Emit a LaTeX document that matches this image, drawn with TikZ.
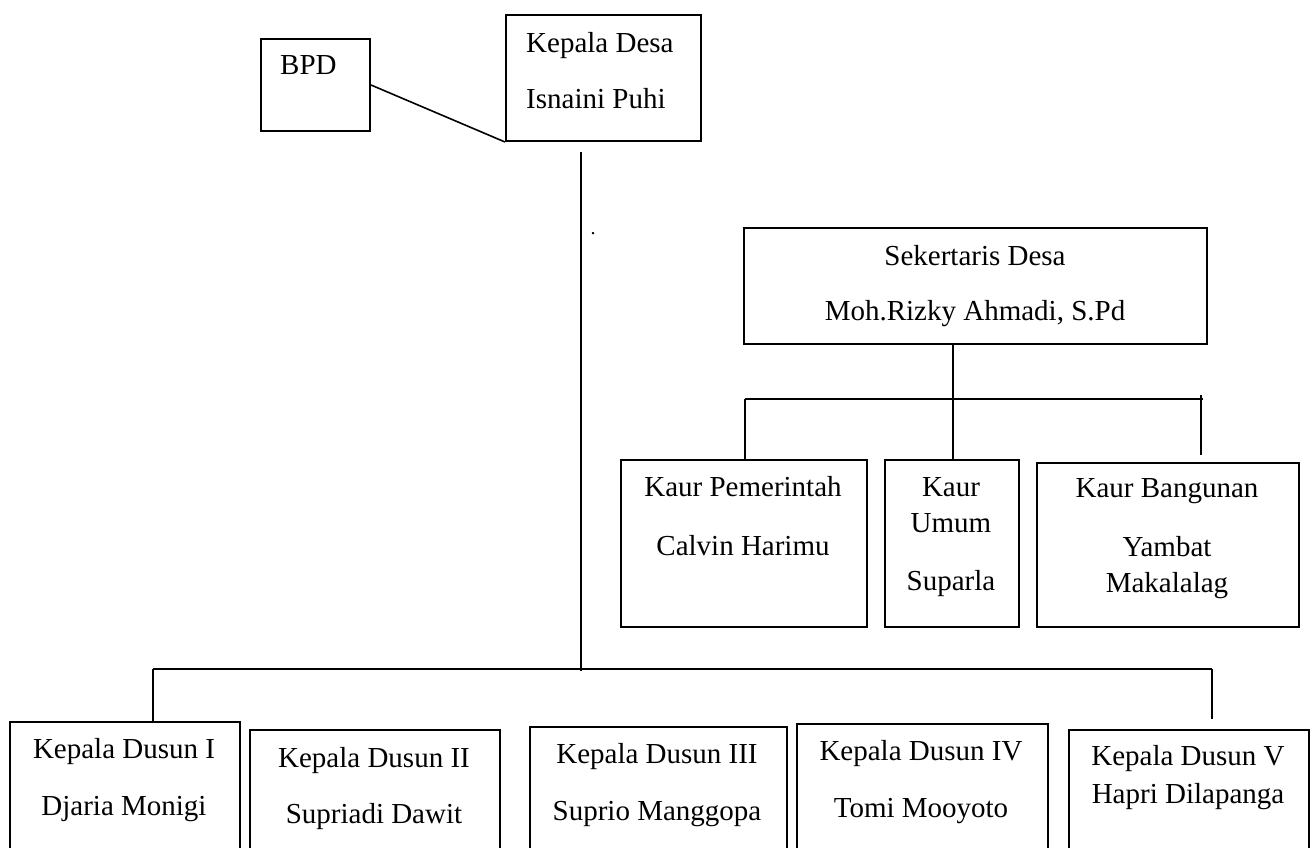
\documentclass[tikz,border=0pt]{standalone}
\usepackage{fontspec}
\setmainfont{Liberation Serif}
\usepackage{tikz}
\usetikzlibrary{positioning}

\tikzset{
  box/.style={rectangle, draw, line width=2pt, inner sep=0pt, anchor=north west},
  txt/.style={inner sep=0pt, align=center, anchor=north, font=\fontsize{29}{36}\selectfont},
  link/.style={line width=1.6pt},
  bar/.style={line width=1.1pt}
}

\begin{document}
\begin{tikzpicture}[x=1pt, y=-1pt]
  \useasboundingbox (0,0) rectangle (1310,848);
  \clip (0,0) rectangle (1310,848);

  % pimpinan desa
  \node (bpd) [box, minimum width=109pt, minimum height=92pt] at (260,38) {};
  \node (bpdT) [txt, anchor=north west] at (280,55) {BPD};
  \node (kades) [box, minimum width=195pt, minimum height=126pt] at (505,14) {};
  \node (kadesT) [txt, anchor=north west, align=left] at (526,32) {Kepala Desa\\[20pt]Isnaini Puhi};
  \node (titik) [txt, anchor=center, font=\fontsize{20}{20}\selectfont] at (593,234) {.};

  % sekretariat
  \node (sek) [box, minimum width=463pt, minimum height=116pt] at (743,227) {};
  \node (sekT) [txt] at (975,245) {Sekertaris Desa\\[19pt]Moh.Rizky Ahmadi, S.Pd};
  \node (pem) [box, minimum width=246pt, minimum height=167pt] at (620,459) {};
  \node (pemT) [txt] at (743,476) {Kaur Pemerintah\\[23pt]Calvin Harimu};
  \node (umum) [box, minimum width=134pt, minimum height=167pt] at (884,459) {};
  \node (umumT) [txt] at (951,477) {Kaur\\Umum\\[22pt]Suparla};
  \node (bang) [box, minimum width=262pt, minimum height=164pt] at (1036,462) {};
  \node (bangT) [txt] at (1167,478) {Kaur Bangunan\\[23pt]Yambat\\Makalalag};

  % kepala dusun
  \node (dsn1) [box, minimum width=230pt, minimum height=140pt] at (9,721) {};
  \node (dsn1T) [txt] at (124,738) {Kepala Dusun I\\[21pt]Djaria Monigi};
  \node (dsn2) [box, minimum width=250pt, minimum height=140pt] at (249,729) {};
  \node (dsn2T) [txt] at (374,747) {Kepala Dusun II\\[20pt]Supriadi Dawit};
  \node (dsn3) [box, minimum width=257pt, minimum height=140pt] at (529,726) {};
  \node (dsn3T) [txt] at (657,743) {Kepala Dusun III\\[21pt]Suprio Manggopa};
  \node (dsn4) [box, minimum width=251pt, minimum height=140pt] at (796,723) {};
  \node (dsn4T) [txt] at (921,740) {Kepala Dusun IV\\[21pt]Tomi Mooyoto};
  \node (dsn5) [box, minimum width=240pt, minimum height=140pt] at (1068,729) {};
  \node (dsn5T) [txt] at (1188,745) {Kepala Dusun V\\[2pt]Hapri Dilapanga};

  % garis
  \coordinate (trunk) at (581,152);
  \coordinate (bus) at (581,671);
  \coordinate (b1) at (153,669);
  \coordinate (b5) at (1212,669);
  \coordinate (k1) at (745,399);
  \coordinate (k2) at (953,399);
  \coordinate (k3) at (1201,399);

  \draw[link] (bpd.east) -- (kades.south west);
  \draw[line width=2.6pt] (trunk) -- (bus);
  \draw[bar] (b1) -- (b5);
  \draw[link] (b1) -- (b1 |- dsn1.north);
  \draw[bar] (b5) -- ++(0,50);
  \draw[link] (k2 |- sek.south) -- (k2 |- umum.north);
  \draw[bar] (k1) -- (1203,399);
  \draw[link] (k1) -- (k1 |- pem.north);
  \draw[bar] (1201,395) -- ++(0,60);
\end{tikzpicture}
\end{document}
